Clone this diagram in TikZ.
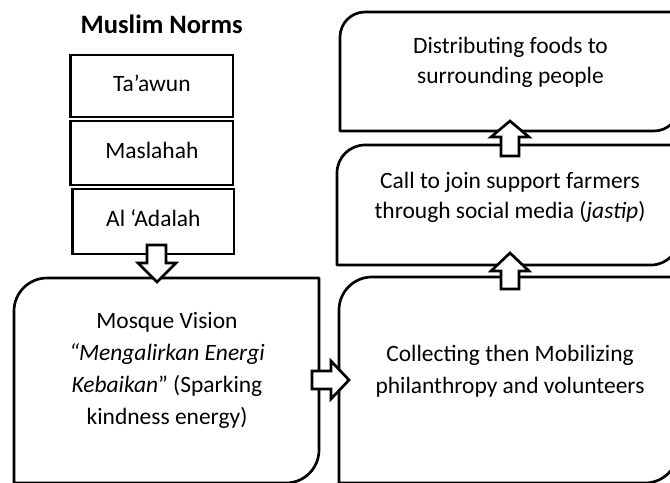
\documentclass[tikz,border=0pt]{standalone}
\usepackage{fontspec}
\setmainfont{Carlito}
\newcommand{\mydiagbox}[5]{% L T R B r
  \draw[boxline] ({#1},{#2+#5}) .. controls ({#1},{#2+0.448*#5}) and ({#1+0.448*#5},{#2}) .. ({#1+#5},{#2})
    -- ({#3},{#2}) -- ({#3},{#4-#5})
    .. controls ({#3},{#4-0.448*#5}) and ({#3-0.448*#5},{#4}) .. ({#3-#5},{#4})
    -- ({#1},{#4}) -- cycle;}
\begin{document}
\begin{tikzpicture}[x=0.75pt,y=-0.75pt,
  boxline/.style={draw=black,line width=2pt,line join=round},
  blockarrow/.style={draw=black,fill=white,line width=2pt,line join=miter},
  normbox/.style={draw=black,line width=2pt,rectangle,inner sep=0pt,
    text depth=4.5pt,font=\fontsize{17.6}{21}\selectfont},
  bigtext/.style={align=center,inner sep=0pt}]
\useasboundingbox (0,0) rectangle (670,482);
\clip (0,0) rectangle (670,482);
\fill[white] (0,0) rectangle (670,482);

% title
\node[inner sep=0pt,font=\fontsize{19.9}{24}\selectfont\bfseries] (title) at (161.7,24) {Muslim Norms};

% norm boxes
\node[normbox,minimum width=121.7pt,minimum height=46.5pt] (tawun) at (151.85,86) {Ta’awun};
\node[normbox,minimum width=121.7pt,minimum height=48pt] (maslahah) at (151.85,153) {Maslahah};
\node[normbox,minimum width=121pt,minimum height=48.75pt] (adalah) at (153.35,221.5) {Al ‘Adalah};

% big boxes
\mydiagbox{14}{278}{319}{483}{33}
\mydiagbox{339}{277}{678}{483}{33}
\mydiagbox{337}{145}{679}{265}{28}
\mydiagbox{340}{12}{679}{131}{25}

% texts
\node[bigtext,font=\fontsize{17.6}{23.8}\selectfont] (vision) at (167,370.5)
  {Mosque Vision\\\textit{“Mengalirkan Energi}\\\textit{Kebaikan}” (Sparking\\kindness energy)};
\node[bigtext,font=\fontsize{17.6}{22.5}\selectfont] (dist) at (510.5,62)
  {Distributing foods to\\surrounding people};
\node[bigtext,font=\fontsize{17.6}{22.5}\selectfont] (call) at (510,197)
  {Call to join support farmers\\through social media (\textit{jastip})};
\node[bigtext,font=\fontsize{17.6}{24}\selectfont] (collect) at (510,371)
  {Collecting then Mobilizing\\philanthropy and volunteers};

% block arrows
\draw[blockarrow] (147,245) -- (166,245) -- (166,263) -- (176,263) -- (157,282) -- (138,263) -- (147,263) -- cycle;
\draw[blockarrow] (312,371) -- (331,371) -- (331,361) -- (349,380) -- (331,399) -- (331,389) -- (312,389) -- cycle;
\draw[blockarrow] (501,156) -- (501,137) -- (491,137) -- (510,121) -- (529,137) -- (519,137) -- (519,156) -- cycle;
\draw[blockarrow] (501,289) -- (501,271) -- (491,271) -- (510,253) -- (529,271) -- (519,271) -- (519,289) -- cycle;
\end{tikzpicture}
\end{document}
